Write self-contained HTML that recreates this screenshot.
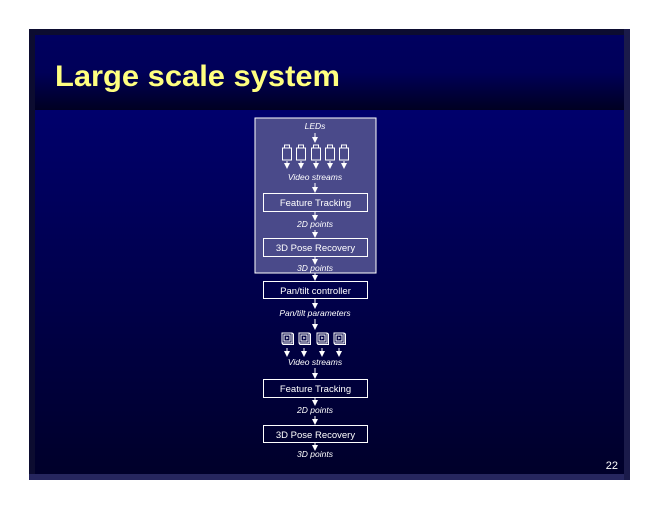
<!DOCTYPE html>
<html><head><style>
html,body{margin:0;padding:0;background:#fff;width:660px;height:510px;overflow:hidden}
</style></head><body>
<svg width="660" height="510" xmlns="http://www.w3.org/2000/svg" font-family="Liberation Sans, sans-serif">
<defs>
<linearGradient id="t" x1="0" y1="0" x2="0" y2="1"><stop offset="0" stop-color="#000060"/><stop offset="0.5" stop-color="#000058"/><stop offset="1" stop-color="#000022"/></linearGradient>
<linearGradient id="b" x1="0" y1="0" x2="0" y2="1"><stop offset="0" stop-color="#00006c"/><stop offset="1" stop-color="#00002a"/></linearGradient>
<marker id="a" markerWidth="6" markerHeight="6" refX="5" refY="3" orient="auto" markerUnits="userSpaceOnUse"><path d="M0,0 L6,3 L0,6 Z" fill="#fff"/></marker>
<g id="cam1" fill="none" stroke="#fff" stroke-width="1"><rect x="-2.5" y="0" width="5" height="3"/><rect x="-4.5" y="3" width="9" height="12"/></g>
<g id="cam2" fill="none" stroke="#fff" stroke-width="1"><rect x="-5" y="0" width="10" height="10"/><rect x="-3" y="2" width="6" height="6"/><path d="M-5,10 L-4,11.5 L6.5,11.5 L6.5,1 L5,0"/><path d="M-1,4 L1,5 L-1,6" stroke-width="0.7"/></g>
</defs>
<rect x="29" y="29" width="601" height="451" fill="#0c0c30"/>
<rect x="29" y="474" width="601" height="6" fill="#26265e"/>
<rect x="624" y="29" width="6" height="451" fill="#1a1a4a"/>
<rect x="35" y="35" width="589" height="75" fill="url(#t)"/>
<rect x="35" y="110" width="589" height="364" fill="url(#b)"/>
<text x="55" y="86" font-size="30" font-weight="bold" fill="#ffff80" textLength="285" lengthAdjust="spacingAndGlyphs">Large scale system</text>
<rect x="255" y="118" width="121" height="155" fill="#4a4a8a" stroke="#fff" stroke-width="1"/>
<g fill="#fff" font-size="8.5" font-style="italic" text-anchor="middle">
<text x="315" y="129">LEDs</text>
<text x="315" y="180">Video streams</text>
<text x="315" y="227">2D points</text>
<text x="315" y="271">3D points</text>
<text x="315" y="316">Pan/tilt parameters</text>
<text x="315" y="365">Video streams</text>
<text x="315" y="413">2D points</text>
<text x="315" y="457">3D points</text>
</g>
<g fill="none" stroke="#fff" stroke-width="1">
<rect x="263.5" y="193.5" width="104" height="18"/>
<rect x="263.5" y="238.5" width="104" height="18"/>
<rect x="263.5" y="281.5" width="104" height="17"/>
<rect x="263.5" y="379.5" width="104" height="18"/>
<rect x="263.5" y="425.5" width="104" height="17"/>
</g>
<g fill="#fff" font-size="9.5" text-anchor="middle">
<text x="315.5" y="206">Feature Tracking</text>
<text x="315.5" y="251">3D Pose Recovery</text>
<text x="315.5" y="294">Pan/tilt controller</text>
<text x="315.5" y="392">Feature Tracking</text>
<text x="315.5" y="438">3D Pose Recovery</text>
</g>
<g stroke="#fff" stroke-width="1" marker-end="url(#a)">
<line x1="315" y1="133" x2="315" y2="142"/>
<line x1="315" y1="183" x2="315" y2="192"/>
<line x1="315" y1="212" x2="315" y2="220"/>
<line x1="315" y1="230" x2="315" y2="237"/>
<line x1="315" y1="257" x2="315" y2="264"/>
<line x1="315" y1="273" x2="315" y2="280"/>
<line x1="315" y1="299" x2="315" y2="308"/>
<line x1="315" y1="319" x2="315" y2="329"/>
<line x1="315" y1="368" x2="315" y2="378"/>
<line x1="315" y1="398" x2="315" y2="405"/>
<line x1="315" y1="416" x2="315" y2="424"/>
<line x1="315" y1="443" x2="315" y2="450"/>
<line x1="287" y1="161" x2="287" y2="168"/>
<line x1="301" y1="161" x2="301" y2="168"/>
<line x1="316" y1="161" x2="316" y2="168"/>
<line x1="330" y1="161" x2="330" y2="168"/>
<line x1="344" y1="161" x2="344" y2="168"/>
<line x1="287" y1="348" x2="287" y2="356"/>
<line x1="304" y1="348" x2="304" y2="356"/>
<line x1="322" y1="348" x2="322" y2="356"/>
<line x1="339" y1="348" x2="339" y2="356"/>
</g>
<use href="#cam1" x="287" y="145"/><use href="#cam1" x="301" y="145"/><use href="#cam1" x="316" y="145"/><use href="#cam1" x="330" y="145"/><use href="#cam1" x="344" y="145"/>
<use href="#cam2" x="287" y="333"/><use href="#cam2" x="304" y="333"/><use href="#cam2" x="322" y="333"/><use href="#cam2" x="339" y="333"/>
<text x="618" y="469" font-size="11" fill="#fff" text-anchor="end">22</text>
</svg>
</body></html>
